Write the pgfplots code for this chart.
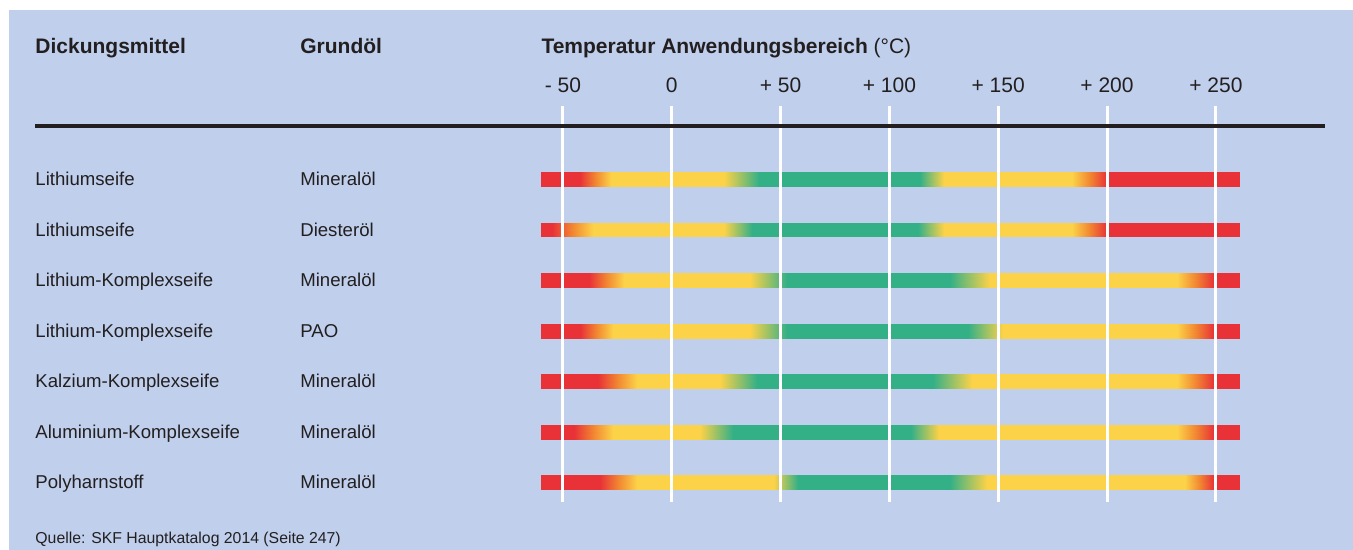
\documentclass[border=0pt]{standalone}
\usepackage{pgfplots}
\pgfplotsset{compat=1.18}
\usepackage{fontspec}
\setmainfont{Liberation Sans}
\definecolor{bgblue}{RGB}{191,207,236}
\definecolor{txt}{RGB}{35,31,32}
\begin{document}
\begin{tikzpicture}
\begin{axis}[
  scale only axis, width=676.5pt, height=275pt,
  xmin=-308.6, xmax=313.0, ymin=-2.554, ymax=8.337, y dir=reverse,
  hide axis, clip=false,
  colormap={traffic}{rgb255(0cm)=(232,50,55); rgb255(1cm)=(242,135,50); rgb255(2cm)=(252,210,72); rgb255(4cm)=(52,176,135)},
  point meta min=0, point meta max=2,
]
\fill[white] (rel axis cs:0,0) rectangle (rel axis cs:1,1);
\fill[bgblue] (axis cs:-304.4,-2.356) rectangle (axis cs:313.0,8.337);

% bars: x = temperature, y = row (+/- half height), c = 0 red, 1 yellow, 2 green
\addplot[surf, shader=interp, mesh/rows=2, mesh/cols=10, point meta=explicit] table[meta=c, row sep=\\] {
x y c\\
-60 0.861 0\\ -42 0.861 0\\ -28 0.861 1\\ 24 0.861 1\\ 40 0.861 2\\ 114 0.861 2\\ 125 0.861 1\\ 184 0.861 1\\ 200 0.861 0\\ 261 0.861 0\\
-60 1.139 0\\ -42 1.139 0\\ -28 1.139 1\\ 24 1.139 1\\ 40 1.139 2\\ 114 1.139 2\\ 125 1.139 1\\ 184 1.139 1\\ 200 1.139 0\\ 261 1.139 0\\
};
\addplot[surf, shader=interp, mesh/rows=2, mesh/cols=10, point meta=explicit] table[meta=c, row sep=\\] {
x y c\\
-60 1.861 0\\ -55 1.861 0\\ -36 1.861 1\\ 24 1.861 1\\ 37 1.861 2\\ 113 1.861 2\\ 125 1.861 1\\ 184 1.861 1\\ 200 1.861 0\\ 261 1.861 0\\
-60 2.139 0\\ -55 2.139 0\\ -36 2.139 1\\ 24 2.139 1\\ 37 2.139 2\\ 113 2.139 2\\ 125 2.139 1\\ 184 2.139 1\\ 200 2.139 0\\ 261 2.139 0\\
};
\addplot[surf, shader=interp, mesh/rows=2, mesh/cols=10, point meta=explicit] table[meta=c, row sep=\\] {
x y c\\
-60 2.861 0\\ -38 2.861 0\\ -22 2.861 1\\ 36 2.861 1\\ 53 2.861 2\\ 128 2.861 2\\ 146 2.861 1\\ 232 2.861 1\\ 249 2.861 0\\ 261 2.861 0\\
-60 3.139 0\\ -38 3.139 0\\ -22 3.139 1\\ 36 3.139 1\\ 53 3.139 2\\ 128 3.139 2\\ 146 3.139 1\\ 232 3.139 1\\ 249 3.139 0\\ 261 3.139 0\\
};
\addplot[surf, shader=interp, mesh/rows=2, mesh/cols=10, point meta=explicit] table[meta=c, row sep=\\] {
x y c\\
-60 3.861 0\\ -42 3.861 0\\ -27 3.861 1\\ 36 3.861 1\\ 53 3.861 2\\ 136 3.861 2\\ 152 3.861 1\\ 232 3.861 1\\ 249 3.861 0\\ 261 3.861 0\\
-60 4.139 0\\ -42 4.139 0\\ -27 4.139 1\\ 36 4.139 1\\ 53 4.139 2\\ 136 4.139 2\\ 152 4.139 1\\ 232 4.139 1\\ 249 4.139 0\\ 261 4.139 0\\
};
\addplot[surf, shader=interp, mesh/rows=2, mesh/cols=10, point meta=explicit] table[meta=c, row sep=\\] {
x y c\\
-60 4.861 0\\ -34 4.861 0\\ -16 4.861 1\\ 22 4.861 1\\ 39 4.861 2\\ 120 4.861 2\\ 138 4.861 1\\ 232 4.861 1\\ 249 4.861 0\\ 261 4.861 0\\
-60 5.139 0\\ -34 5.139 0\\ -16 5.139 1\\ 22 5.139 1\\ 39 5.139 2\\ 120 5.139 2\\ 138 5.139 1\\ 232 5.139 1\\ 249 5.139 0\\ 261 5.139 0\\
};
\addplot[surf, shader=interp, mesh/rows=2, mesh/cols=10, point meta=explicit] table[meta=c, row sep=\\] {
x y c\\
-60 5.861 0\\ -45 5.861 0\\ -27 5.861 1\\ 13 5.861 1\\ 28 5.861 2\\ 110 5.861 2\\ 123 5.861 1\\ 232 5.861 1\\ 249 5.861 0\\ 261 5.861 0\\
-60 6.139 0\\ -45 6.139 0\\ -27 6.139 1\\ 13 6.139 1\\ 28 6.139 2\\ 110 6.139 2\\ 123 6.139 1\\ 232 6.139 1\\ 249 6.139 0\\ 261 6.139 0\\
};
\addplot[surf, shader=interp, mesh/rows=2, mesh/cols=10, point meta=explicit] table[meta=c, row sep=\\] {
x y c\\
-60 6.861 0\\ -33 6.861 0\\ -16 6.861 1\\ 47 6.861 1\\ 58 6.861 2\\ 128 6.861 2\\ 145 6.861 1\\ 236 6.861 1\\ 249 6.861 0\\ 261 6.861 0\\
-60 7.139 0\\ -33 7.139 0\\ -16 7.139 1\\ 47 7.139 1\\ 58 7.139 2\\ 128 7.139 2\\ 145 7.139 1\\ 236 7.139 1\\ 249 7.139 0\\ 261 7.139 0\\
};

% white grid lines
\addplot[white, line width=1.5pt] coordinates {(-50,-0.455) (-50,7.386)};
\addplot[white, line width=1.5pt] coordinates {(0,-0.455) (0,7.386)};
\addplot[white, line width=1.5pt] coordinates {(50,-0.455) (50,7.386)};
\addplot[white, line width=1.5pt] coordinates {(100,-0.455) (100,7.386)};
\addplot[white, line width=1.5pt] coordinates {(150,-0.455) (150,7.386)};
\addplot[white, line width=1.5pt] coordinates {(200,-0.455) (200,7.386)};
\addplot[white, line width=1.5pt] coordinates {(250,-0.455) (250,7.386)};
% black rule
\addplot[txt, line width=2pt] coordinates {(-292.5,-0.05) (300.1,-0.05)};

% headers
\node[anchor=base west, inner sep=0, text=txt, font=\fontsize{10.5}{12}\selectfont\bfseries] at (axis cs:-292.5,-1.495) {Dickungsmittel};
\node[anchor=base west, inner sep=0, text=txt, font=\fontsize{10.5}{12}\selectfont\bfseries] at (axis cs:-170.8,-1.495) {Grundöl};
\node[anchor=base west, inner sep=0, text=txt, font=\fontsize{10.5}{12}\selectfont\bfseries] at (axis cs:-60,-1.495) {Temperatur Anwendungsbereich \mdseries(°C)};
% tick labels
\node[anchor=base, inner sep=0, text=txt, font=\fontsize{10.5}{12}\selectfont] at (axis cs:-50,-0.723) {- 50};
\node[anchor=base, inner sep=0, text=txt, font=\fontsize{10.5}{12}\selectfont] at (axis cs:0,-0.723) {0};
\node[anchor=base, inner sep=0, text=txt, font=\fontsize{10.5}{12}\selectfont] at (axis cs:50,-0.723) {+ 50};
\node[anchor=base, inner sep=0, text=txt, font=\fontsize{10.5}{12}\selectfont] at (axis cs:100,-0.723) {+ 100};
\node[anchor=base, inner sep=0, text=txt, font=\fontsize{10.5}{12}\selectfont] at (axis cs:150,-0.723) {+ 150};
\node[anchor=base, inner sep=0, text=txt, font=\fontsize{10.5}{12}\selectfont] at (axis cs:200,-0.723) {+ 200};
\node[anchor=base, inner sep=0, text=txt, font=\fontsize{10.5}{12}\selectfont] at (axis cs:250,-0.723) {+ 250};
% row labels
\pgfplotsset{every node/.append style={}}
\node[anchor=base west, inner sep=0, text=txt, font=\fontsize{9.3}{11}\selectfont] at (axis cs:-292.5,1.125) {Lithiumseife};
\node[anchor=base west, inner sep=0, text=txt, font=\fontsize{9.3}{11}\selectfont] at (axis cs:-170.8,1.125) {Mineralöl};
\node[anchor=base west, inner sep=0, text=txt, font=\fontsize{9.3}{11}\selectfont] at (axis cs:-292.5,2.125) {Lithiumseife};
\node[anchor=base west, inner sep=0, text=txt, font=\fontsize{9.3}{11}\selectfont] at (axis cs:-170.8,2.125) {Diesteröl};
\node[anchor=base west, inner sep=0, text=txt, font=\fontsize{9.3}{11}\selectfont] at (axis cs:-292.5,3.125) {Lithium-Komplexseife};
\node[anchor=base west, inner sep=0, text=txt, font=\fontsize{9.3}{11}\selectfont] at (axis cs:-170.8,3.125) {Mineralöl};
\node[anchor=base west, inner sep=0, text=txt, font=\fontsize{9.3}{11}\selectfont] at (axis cs:-292.5,4.125) {Lithium-Komplexseife};
\node[anchor=base west, inner sep=0, text=txt, font=\fontsize{9.3}{11}\selectfont] at (axis cs:-170.8,4.125) {PAO};
\node[anchor=base west, inner sep=0, text=txt, font=\fontsize{9.3}{11}\selectfont] at (axis cs:-292.5,5.125) {Kalzium-Komplexseife};
\node[anchor=base west, inner sep=0, text=txt, font=\fontsize{9.3}{11}\selectfont] at (axis cs:-170.8,5.125) {Mineralöl};
\node[anchor=base west, inner sep=0, text=txt, font=\fontsize{9.3}{11}\selectfont] at (axis cs:-292.5,6.125) {Aluminium-Komplexseife};
\node[anchor=base west, inner sep=0, text=txt, font=\fontsize{9.3}{11}\selectfont] at (axis cs:-170.8,6.125) {Mineralöl};
\node[anchor=base west, inner sep=0, text=txt, font=\fontsize{9.3}{11}\selectfont] at (axis cs:-292.5,7.125) {Polyharnstoff};
\node[anchor=base west, inner sep=0, text=txt, font=\fontsize{9.3}{11}\selectfont] at (axis cs:-170.8,7.125) {Mineralöl};
% source
\node[anchor=base west, inner sep=0, text=txt, font=\fontsize{7.9}{9}\selectfont] at (axis cs:-292.5,8.218) {Quelle: SKF Hauptkatalog 2014 (Seite 247)};
\end{axis}
\end{tikzpicture}
\end{document}
